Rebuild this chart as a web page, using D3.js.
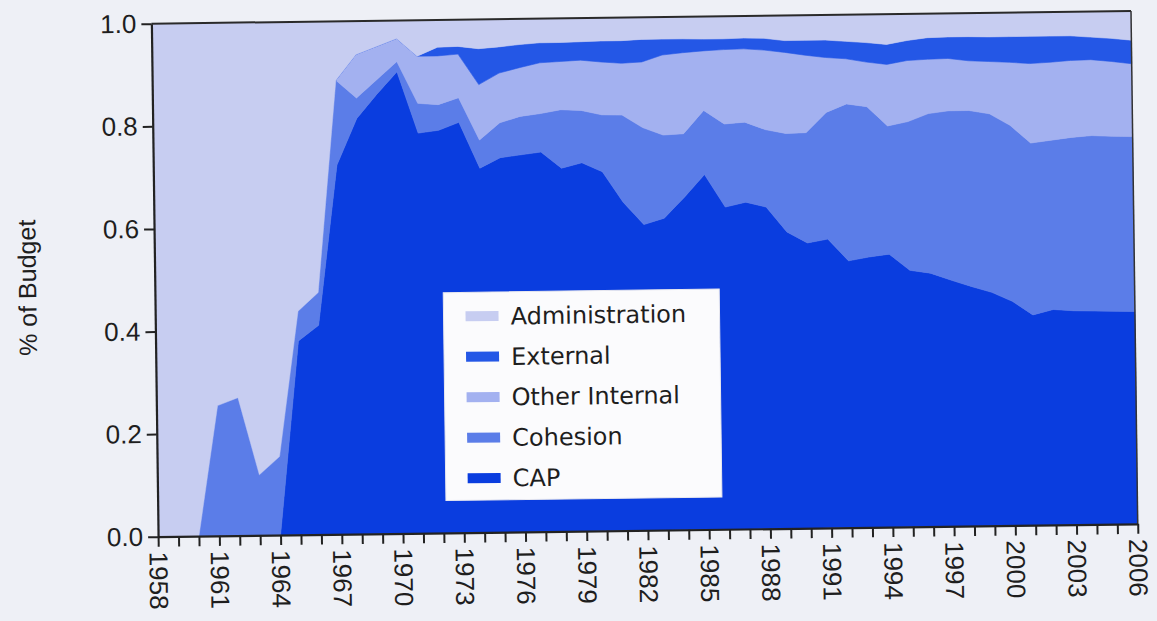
<!DOCTYPE html>
<html>
<head>
<meta charset="utf-8">
<script src="https://cdn.jsdelivr.net/npm/d3@7"></script>
<style>
  html, body { margin: 0; padding: 0; background: #eef0f6; }
  svg { display: block; }
</style>
</head>
<body>
<svg id="chart" width="1157" height="621"></svg>
<script>
// ---- data (shares of budget) ----
const years = d3.range(1958, 2007);
const cap = [0,0,0,0,0,0,0,0.378,0.408,0.72,0.81,0.857,0.90,0.78,0.785,0.80,0.71,0.73,0.735,0.74,0.708,0.718,0.70,0.64,0.596,0.608,0.648,0.692,0.628,0.637,0.627,0.578,0.556,0.563,0.52,0.527,0.532,0.50,0.494,0.48,0.467,0.455,0.437,0.41,0.42,0.417,0.416,0.415,0.414];
const cohesion = [0,0,0,0.254,0.269,0.118,0.153,0.058,0.064,0.165,0.04,0.028,0.02,0.058,0.05,0.048,0.055,0.068,0.075,0.075,0.114,0.102,0.111,0.17,0.189,0.162,0.124,0.125,0.162,0.156,0.151,0.192,0.215,0.247,0.306,0.293,0.25,0.29,0.311,0.33,0.343,0.348,0.343,0.335,0.33,0.338,0.342,0.341,0.341];
const otherInternal = [0,0,0,0,0,0,0,0,0,0,0.085,0.065,0.045,0.092,0.095,0.085,0.108,0.097,0.095,0.099,0.094,0.098,0.103,0.101,0.128,0.156,0.158,0.116,0.145,0.143,0.155,0.158,0.151,0.107,0.088,0.087,0.12,0.119,0.106,0.102,0.097,0.102,0.123,0.155,0.152,0.15,0.148,0.146,0.142];
const external = [0,0,0,0,0,0,0,0,0,0,0,0,0,0,0.017,0.015,0.07,0.051,0.045,0.039,0.037,0.036,0.041,0.044,0.044,0.031,0.027,0.023,0.021,0.021,0.023,0.023,0.029,0.034,0.034,0.038,0.039,0.039,0.042,0.042,0.047,0.048,0.05,0.053,0.051,0.048,0.044,0.045,0.046];
const administration = [1,1,1,0.746,0.731,0.882,0.847,0.564,0.528,0.115,0.065,0.05,0.035,0.07,0.053,0.052,0.057,0.054,0.05,0.047,0.047,0.046,0.045,0.045,0.043,0.043,0.043,0.044,0.044,0.043,0.044,0.049,0.049,0.049,0.052,0.055,0.059,0.052,0.047,0.046,0.046,0.047,0.047,0.047,0.047,0.047,0.05,0.053,0.057];
const seriesNames = ["CAP", "Cohesion", "Other Internal", "External", "Administration"];
const legendOrder = ["Administration", "External", "Other Internal", "Cohesion", "CAP"];
const yTicks = [0, 0.2, 0.4, 0.6, 0.8, 1.0];
const xLabelStep = 3;

const colors = {
  "CAP": "#0a3ddf",
  "Cohesion": "#5b7de8",
  "Other Internal": "#a3b1f0",
  "External": "#2457e6",
  "Administration": "#c7cdf1"
};

const table = years.map((yr, i) => ({
  year: yr,
  "CAP": cap[i],
  "Cohesion": cohesion[i],
  "Other Internal": otherInternal[i],
  "External": external[i],
  "Administration": administration[i]
}));

// ---- layout ----
const L = 154.7, R = 1134.4, T = 17.3, B = 530.3;
const x = d3.scaleLinear().domain([1958, 2006]).range([L, R]);
const y = d3.scaleLinear().domain([0, 1]).range([B, T]);

const svg = d3.select("#chart");
const g = svg.append("g").attr("transform", "rotate(-0.75,644.5,274)");

const stacked = d3.stack().keys(seriesNames)(table);
const area = d3.area()
  .x(d => x(d.data.year))
  .y0(d => y(d[0]))
  .y1(d => y(Math.min(1, d[1])));

g.append("g").selectAll("path")
  .data(stacked)
  .join("path")
  .attr("d", area)
  .attr("fill", d => colors[d.key])
  .attr("stroke", d => colors[d.key])
  .attr("stroke-width", 0.6);

// frame
g.append("line").attr("x1", L).attr("x2", R).attr("y1", T).attr("y2", T)
  .attr("stroke", "#2a2a2a").attr("stroke-width", 2);
g.append("line").attr("x1", R).attr("x2", R).attr("y1", T).attr("y2", B)
  .attr("stroke", "#333").attr("stroke-width", 1.5);

// axes
const yAxis = d3.axisLeft(y).tickValues(yTicks).tickFormat(d3.format(".1f"))
  .tickSize(10).tickPadding(5).tickSizeOuter(0);
const yg = g.append("g").attr("transform", `translate(${L},0)`).call(yAxis);
yg.select(".domain").attr("stroke", "#222").attr("stroke-width", 2.2);
yg.selectAll(".tick line").attr("stroke", "#222").attr("stroke-width", 2);
yg.selectAll(".tick text")
  .attr("fill", "#1e1e1e")
  .style("font-family", "'Liberation Sans', Arial, sans-serif")
  .style("font-size", "26px");

const xAxis = d3.axisBottom(x).tickValues(years)
  .tickFormat(d => ((d - 1958) % xLabelStep === 0 ? String(d) : ""))
  .tickSize(10).tickSizeOuter(0);
const xg = g.append("g").attr("transform", `translate(0,${B})`).call(xAxis);
xg.select(".domain").attr("stroke", "#222").attr("stroke-width", 2.2);
xg.selectAll(".tick line").attr("stroke", "#222").attr("stroke-width", 2);
xg.selectAll(".tick text")
  .attr("fill", "#1e1e1e")
  .style("font-family", "'Liberation Sans', Arial, sans-serif")
  .style("font-size", "26px")
  .attr("transform", "rotate(90)")
  .attr("x", 15).attr("y", 0).attr("dy", "0.36em")
  .style("text-anchor", "start");

// y label
g.append("text")
  .attr("transform", `translate(36,${(T + B) / 2 + 6}) rotate(-90)`)
  .attr("text-anchor", "middle")
  .attr("fill", "#1e1e1e")
  .style("font-family", "'Liberation Sans', Arial, sans-serif")
  .style("font-size", "25px")
  .text("% of Budget");

// legend
const lg = g.append("g").attr("transform", "translate(443,290)");
lg.append("rect").attr("width", 276).attr("height", 208)
  .attr("fill", "#fbfbfd").attr("stroke", "#e8e8ef").attr("stroke-width", 1);
legendOrder.forEach((name, i) => {
  const cy = 24 + i * 40.5;
  lg.append("rect").attr("x", 22).attr("y", cy - 5).attr("width", 33).attr("height", 10)
    .attr("fill", colors[name]);
  lg.append("text").attr("x", 67).attr("y", cy).attr("dy", "0.36em")
    .attr("fill", "#1e1e1e")
    .style("font-family", "'DejaVu Sans', sans-serif")
    .style("font-size", "24px")
    .text(name);
});
</script>
</body>
</html>
